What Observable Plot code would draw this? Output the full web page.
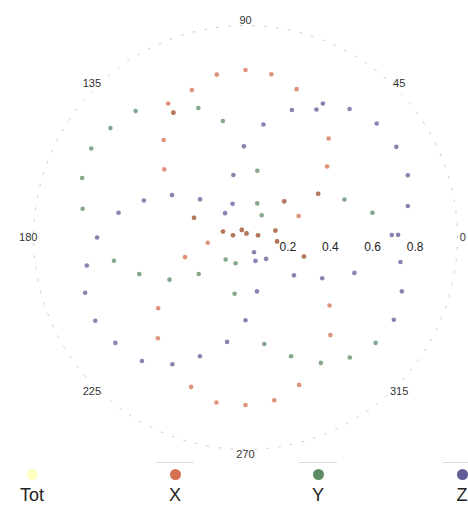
<!DOCTYPE html>
<html><head><meta charset="utf-8">
<script src="https://cdn.jsdelivr.net/npm/d3@7"></script>
<script src="https://cdn.jsdelivr.net/npm/@observablehq/plot@0.6"></script>
<style>
body{margin:0;background:#fff;font-family:"Liberation Sans",Arial,sans-serif;}
#wrap{position:relative;width:468px;height:512px;overflow:hidden;}
#legend{position:absolute;left:0;top:462px;width:468px;height:50px;}
.item{position:absolute;top:0;width:60px;margin-left:-30px;text-align:center;}
.bar{width:38px;height:1px;background:#ddd;margin:0 auto 6px auto;}
.dot{width:11px;height:11px;border-radius:50%;margin:0 auto;}
.lab{font-size:18px;color:#222;line-height:20px;margin-top:5px;}
</style></head>
<body><div id="wrap"><div id="chart"></div><div id="legend"></div></div>
<script>
// angle (degrees), radius for each series
const xAngles = [100,110,120,130,140,90,81,71,50,41,22,188,198,219,229,250,260,-39,-49,-70,-90,-80];
const xRadii  = [0.78,0.74,0.73,0.60,0.50,0.79,0.78,0.74,0.61,0.51,0.27,0.18,0.30,0.53,0.63,0.75,0.79,0.51,0.61,0.74,0.79,0.78];
const yAngles = [110,131,141,101,150,160,170,80,71,21,54,11,228,190,199,209,218,249,259,-80,-69,-59,-49,-39];
const yRadii  = [0.65,0.79,0.82,0.56,0.84,0.82,0.78,0.32,0.17,0.50,0.13,0.61,0.14,0.63,0.53,0.41,0.28,0.13,0.27,0.51,0.60,0.69,0.75,0.79];
const zAngles = [150,160,140,101,169,130,111,60,70,61,51,81,41,91,31,21,11,180,190,199,209,219,230,240,249,260,-60,-67,-46,-38,-28,-18,-9,1,1,-78,-19,-90,-29];
const zRadii  = [0.40,0.51,0.28,0.30,0.61,0.15,0.17,0.73,0.64,0.69,0.78,0.54,0.82,0.43,0.83,0.82,0.78,0.70,0.76,0.80,0.81,0.79,0.76,0.69,0.60,0.50,0.08,0.12,0.14,0.29,0.41,0.54,0.74,0.69,0.72,0.26,0.78,0.39,0.80];
// points where X and Y coincide
const xyAngles = [120,159,43,31,165,170,116,76,10,13,-7,-18];
const xyRadii  = [0.68,0.26,0.25,0.40,0.11,0.06,0.04,0.02,0.06,0.145,0.15,0.29];
const series = ["Tot","X","Y","Z"];
const colors = ["#ffff99","#d0603f","#4a7f55","#4c4b8c"];
const angleTicks = [0,45,90,135,180,225,270,315];
const radialTicks = [0.2,0.4,0.6,0.8];

const rows = [];
const add = (s, A, R) => A.forEach((a,i)=>rows.push({series:s, angle:a, r:R[i]}));
add("Y", xyAngles, xyRadii);
add("X", xyAngles, xyRadii);
add("X", xAngles, xRadii);
add("Y", yAngles, yRadii);
add("Z", zAngles, zRadii);

const rad = a => a*Math.PI/180;
const px = d => d.r*Math.cos(rad(d.angle));
const py = d => d.r*Math.sin(rad(d.angle));
const circle = d3.range(0, 361, 3).map(a => ({angle:a, r:1}));

const W = 468, H = 462, S = 212, cx = 245, cy = 237;
const chart = Plot.plot({
  width: W, height: H,
  marginLeft: 0, marginRight: 0, marginTop: 0, marginBottom: 0,
  x: {domain: [-cx/S, (W-cx)/S], axis: null},
  y: {domain: [-(H-cy)/S, cy/S], axis: null},
  color: {domain: series, range: colors},
  style: {fontFamily: "'Liberation Sans', Arial, sans-serif"},
  marks: [
    Plot.line(circle, {x: px, y: py, stroke: "#aaa", strokeWidth: 1, strokeDasharray: "2,10", strokeOpacity: 0.6}),
    Plot.dot(rows, {x: px, y: py, fill: "series", r: 2.3, fillOpacity: 0.68, stroke: "none"}),
    Plot.text(angleTicks, {x: a => 1.025*Math.cos(rad(a)), y: a => 1.025*Math.sin(rad(a)), text: a => String(a), fontSize: 11, fill: "#333"}),
    Plot.text(radialTicks, {x: r => r, y: -0.047, text: r => String(r), fontSize: 12, fill: "#222"})
  ]
});
document.getElementById("chart").appendChild(chart);

const lg = document.getElementById("legend");
const xs = [32, 175, 318, 462];
series.forEach((s,i) => {
  const it = document.createElement("div");
  it.className = "item";
  it.style.left = xs[i] + "px";
  it.innerHTML = `<div class="bar" style="opacity:${i===0?0:1}"></div><div class="dot" style="background:${colors[i]};opacity:${i===0?0.6:0.9}"></div><div class="lab">${s}</div>`;
  lg.appendChild(it);
});
</script></body></html>
